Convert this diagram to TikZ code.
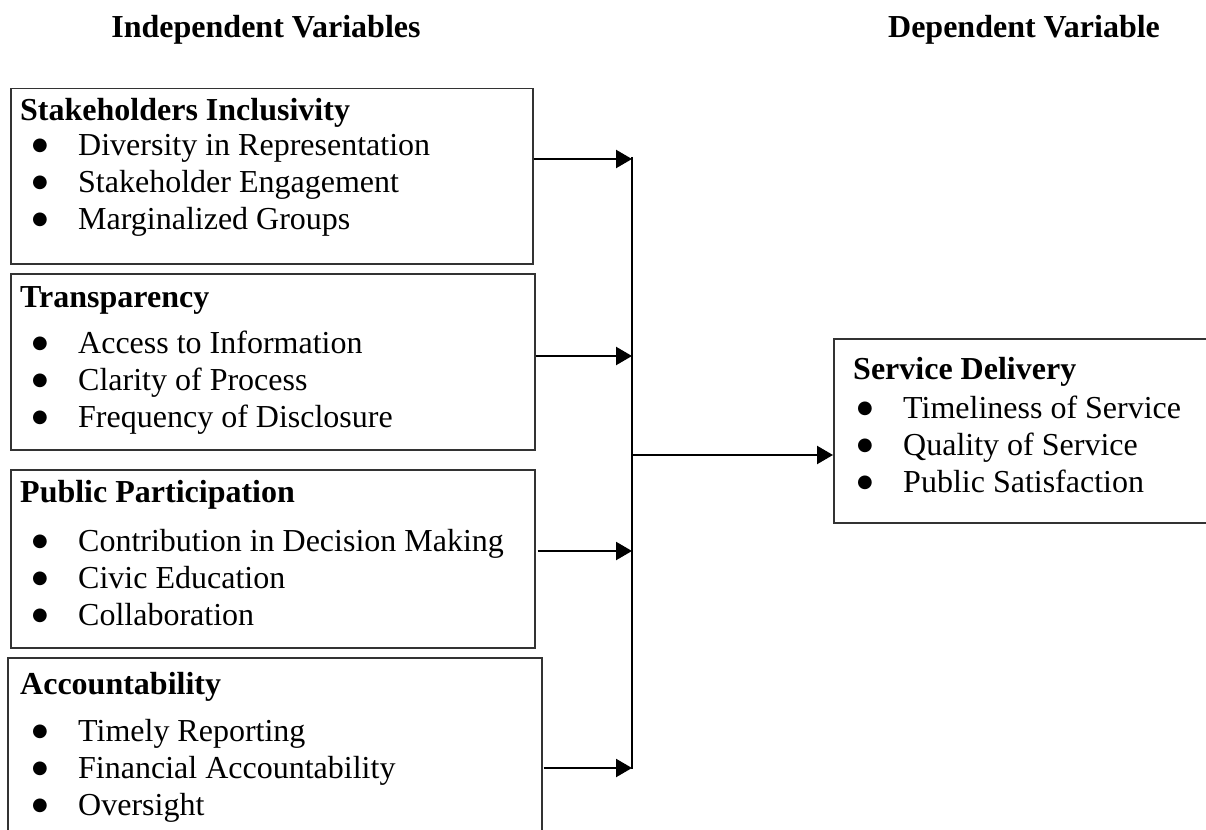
\documentclass[tikz,border=0pt]{standalone}
\usepackage{fontspec}
\setmainfont{Liberation Serif}
\newfontfamily\symfont{DejaVu Sans}
\usetikzlibrary{arrows.meta}
\newcommand\bitem[2][12pt]{\hspace*{#1}\makebox[46pt][l]{\raisebox{5pt}{\fontsize{18}{18}\selectfont\symfont ●}}#2}
\tikzset{
  frame style/.style={
    x=1pt, y=-1pt,
    font=\fontsize{32}{37}\selectfont,
  },
  var box/.style={
    draw=black!80, line width=1.5pt, rectangle, anchor=north west, inner sep=0pt
  },
  var text/.style={
    anchor=base west, inner sep=0pt
  },
  head text/.style={
    font=\fontsize{32}{37}\selectfont\bfseries, anchor=base, inner sep=0pt
  },
  bus/.style={
    line width=2.2pt,
  },
  link/.style={
    bus, -{Triangle[length=16pt,width=18pt]}
  },
}

\begin{document}
\begin{tikzpicture}[frame style]
  \useasboundingbox (0,0) rectangle (1206,829);
  \node[head text] (iv) at (266,38) {Independent Variables};
  \node[head text] (dv) at (1024,38) {Dependent Variable};
  % independent variables
  \node[var box, minimum width=522, minimum height=175] (si) at (10,88) {};
  \node[var text] (sit) at (20,121) {\begin{tabular}[t]{@{}l@{}}
    \textbf{Stakeholders Inclusivity}\\[-2pt]
    \bitem{Diversity in Representation}\\
    \bitem{Stakeholder Engagement}\\
    \bitem{Marginalized Groups}
  \end{tabular}};
  \node[var box, minimum width=524, minimum height=176] (tr) at (10,273) {};
  \node[var text] (trt) at (20,307) {\begin{tabular}[t]{@{}l@{}}
    \textbf{Transparency}\\[9pt]
    \bitem{Access to Information}\\
    \bitem{Clarity of Process}\\
    \bitem{Frequency of Disclosure}
  \end{tabular}};
  \node[var box, minimum width=524, minimum height=178] (pp) at (10,469) {};
  \node[var text] (ppt) at (20,502) {\begin{tabular}[t]{@{}l@{}}
    \textbf{Public Participation}\\[12pt]
    \bitem{Contribution in Decision Making}\\
    \bitem{Civic Education}\\
    \bitem{Collaboration}
  \end{tabular}};
  \node[var box, minimum width=534, minimum height=190] (ac) at (7,657) {};
  \node[var text] (act) at (20,694) {\begin{tabular}[t]{@{}l@{}}
    \textbf{Accountability}\\[10pt]
    \bitem{Timely Reporting}\\
    \bitem{Financial Accountability}\\
    \bitem{Oversight}
  \end{tabular}};
  % dependent variable
  \node[var box, minimum width=390, minimum height=184] (sd) at (833,338) {};
  \node[var text] (sdt) at (853,379) {\begin{tabular}[t]{@{}l@{}}
    \textbf{Service Delivery}\\[2pt]
    \bitem[4pt]{Timeliness of Service}\\
    \bitem[4pt]{Quality of Service}\\
    \bitem[4pt]{Public Satisfaction}
  \end{tabular}};
  % connectors
  \coordinate (j1) at (632,159);
  \coordinate (j2) at (632,356);
  \coordinate (j3) at (632,551);
  \coordinate (j4) at (632,768);
  \coordinate (jo) at (632,455);
  \draw[link] (si.east |- j1) -- (j1);
  \draw[link] (tr.east |- j2) -- (j2);
  \draw[link] ([xshift=2pt]pp.east |- j3) -- (j3);
  \draw[link] ([xshift=1pt]ac.east |- j4) -- (j4);
  \draw[bus] ([yshift=2pt]j1) -- ([yshift=-1pt]j4);
  \draw[link] (jo) -- (sd.west |- jo);
\end{tikzpicture}
\end{document}
